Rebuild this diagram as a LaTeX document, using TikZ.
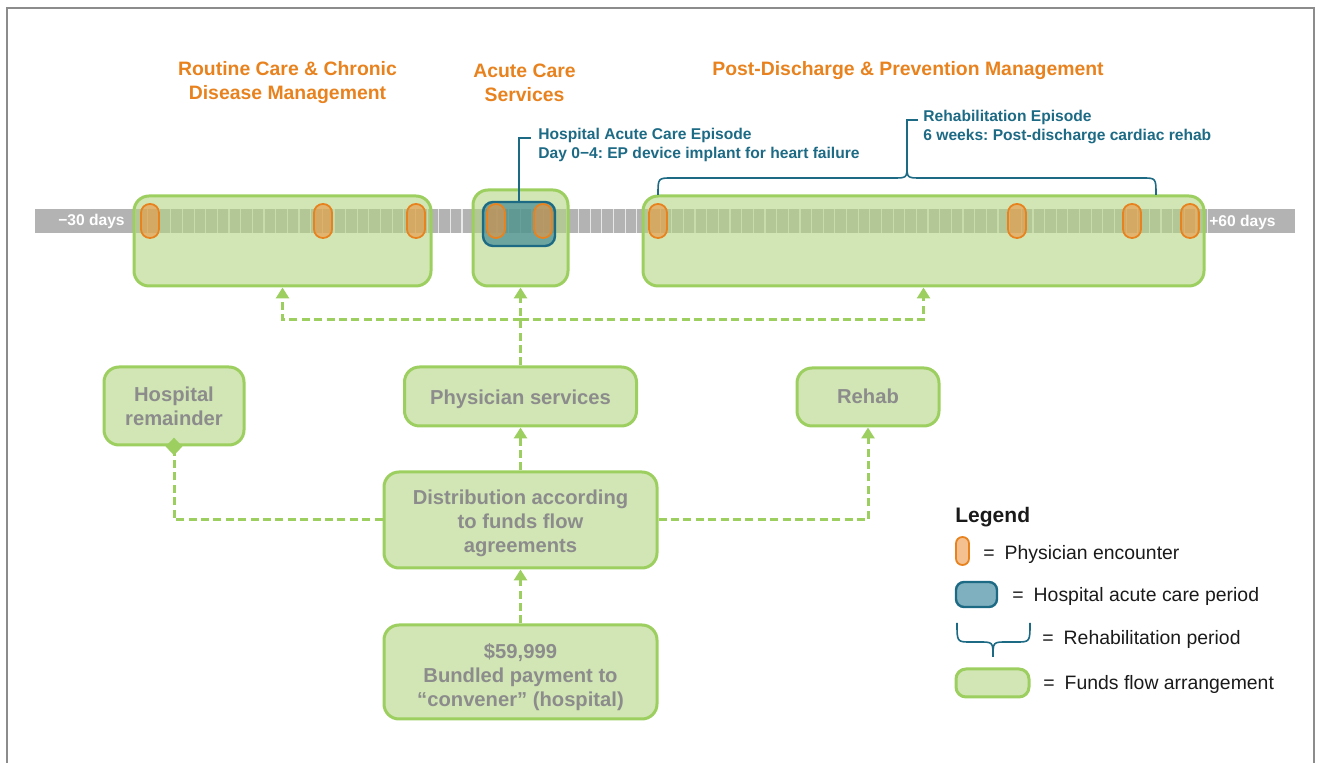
\documentclass[tikz,border=0pt]{standalone}
\usepackage{fontspec}
\setmainfont{Liberation Sans}
\usetikzlibrary{arrows.meta,shapes.geometric}
\definecolor{gfill}{HTML}{D1E6B4}
\definecolor{gbox}{HTML}{B2D582}
\definecolor{gline}{HTML}{9CCF5F}
\definecolor{gtext}{HTML}{8C8C8C}
\definecolor{orng}{HTML}{E8821E}
\definecolor{ofill}{HTML}{EC9644}
\definecolor{tealline}{HTML}{1D6A85}
\definecolor{tfill}{HTML}{2A7B94}
\definecolor{barcol}{HTML}{B3B3B3}
\definecolor{framecol}{HTML}{8C8C8C}
\definecolor{legtext}{HTML}{1A1A1A}
\newcommand{\lowered}[2]{\raisebox{-#1}[\height][\depth]{\begin{tabular}{@{}c@{}}#2\end{tabular}}}
\tikzset{
  fund/.style={draw=gline, line width=1.5pt, rounded corners=7.5pt, fill=gfill, inner sep=0pt},
  fundT/.style={draw=gline, line width=1.5pt, rounded corners=7.5pt, fill=gbox, fill opacity=0.6, inner sep=0pt},
  pill/.style={draw=orng, line width=0.9pt, fill=ofill, fill opacity=0.6, rounded corners=4.4pt, minimum width=9pt, minimum height=17pt, inner sep=0pt},
  acute/.style={draw=tealline, line width=1.2pt, fill=tfill, fill opacity=0.6, rounded corners=5pt, inner sep=0pt},
  gtxt/.style={text=gtext, font=\bfseries\fontsize{10.1}{12}\selectfont, text opacity=1},
  head/.style={text=orng, font=\bfseries\fontsize{9.7}{12}\selectfont, align=center},
  ttxt/.style={text=tealline, font=\bfseries\fontsize{7.8}{9.5}\selectfont, align=left, anchor=west, inner sep=0pt},
  daylbl/.style={text=white, font=\bfseries\fontsize{7.8}{9}\selectfont, inner sep=0pt},
  ltxt/.style={text=legtext, font=\fontsize{9.7}{12}\selectfont, anchor=west, inner sep=0pt},
  flow/.style={draw=gline, line width=1.5pt, dash pattern=on 4pt off 2.2pt},
  arr/.style={-{Triangle[width=6.5pt,length=5.5pt]}},
  tick/.style={white, opacity=0.7, line width=0.6pt},
  leader/.style={draw=tealline, line width=0.8pt},
}
\begin{document}
\frenchspacing
\begin{tikzpicture}[x=0.5pt,y=-0.5pt]
\useasboundingbox (0,0) rectangle (1323,763);
% frame
\draw[framecol, line width=1pt] (7,763) -- (7,8) -- (1314,8) -- (1314,763);
% timeline bar
\fill[barcol] (35,209) rectangle (1295,233);
\foreach \i in {-31,...,61} \draw[tick] ({497+\i*11.65},209) -- ++(0,24);
\node[daylbl] (m30) at (91.5,221) {−30 days};
\node[daylbl] (p60) at (1242.5,222) {+60 days};
% funds flow boxes on the timeline
\node[fundT, minimum width=148.5pt, minimum height=45pt] (box1) at (282.5,241) {};
\node[fundT, minimum width=47.5pt, minimum height=48pt] (box2) at (520.5,238) {};
\node[fundT, minimum width=280.5pt, minimum height=45pt] (box3) at (923.5,241) {};
% acute care period
\node[acute, minimum width=36pt, minimum height=22pt] (acu) at (519,224) {};
% physician encounters
\foreach \x/\n in {150/e1,323/e2,416/e3,496/e4,543/e5,658/e6,1017/e7,1132/e8,1190/e9}
  \node[pill] (\n) at (\x,221) {};
% headings
\node[head] (h1) at (287.5,83) {Routine Care \& Chronic\\Disease Management};
\node[head] (h2) at (524.5,83) {Acute Care\\Services};
\node[head] (h3) at (908,71) {Post-Discharge \& Prevention Management};
% acute annotation
\node[ttxt] (atxt) at (538,145) {Hospital Acute Care Episode\\Day 0−4: EP device implant for heart failure};
\coordinate (al) at (531,138);
\draw[leader] (acu.north) |- (al);
% rehab brace and annotation
\draw[leader] (658,195) .. controls (658,178) .. (672,178) -- (893,178)
  .. controls (907,178) .. (907,165) .. controls (907,178) .. (921,178)
  -- (1142,178) .. controls (1156,178) .. (1156,195);
\coordinate (btip) at (907,165);
\coordinate (rl) at (918,120);
\draw[leader] (btip) |- (rl);
\node[ttxt] (rtxt) at (923,127) {Rehabilitation Episode\\6 weeks: Post-discharge cardiac rehab};
% lower nodes
\node[fund, gtxt, minimum width=70pt, minimum height=39pt] (hosp) at (174,406) {\lowered{1.5pt}{Hospital\\remainder}};
\node[fund, gtxt, minimum width=116pt, minimum height=29.5pt] (phys) at (520.5,396.5) {\lowered{1.5pt}{Physician services}};
\node[fund, gtxt, minimum width=71pt, minimum height=29pt] (rehab) at (868,397) {\lowered{1pt}{Rehab}};
\node[fund, gtxt, minimum width=136.5pt, minimum height=48pt] (dist) at (520.5,520) {\lowered{2pt}{Distribution according\\to funds flow\\agreements}};
\node[fund, gtxt, minimum width=136.5pt, minimum height=47pt] (bund) at (520.5,672) {\lowered{2.8pt}{\$59,999\\Bundled payment to\\“convener” (hospital)}};
% connectors
\coordinate (bus) at (520.5,320);
\draw[flow, arr] (phys.north) -- (box2.south);
\draw[flow, arr] (bus) -| (box1.south);
\draw[flow, arr] (bus) -| (box3.south);
\draw[flow, arr] (dist.north) -- (phys.south);
\draw[flow, arr] (bund.north) -- (dist.south);
\draw[flow] (dist.west) -| (hosp.south);
\node[diamond, fill=gline, inner sep=0pt, minimum width=8.5pt, minimum height=9pt] (dmd) at (hosp.south) {};
\draw[flow, arr] (dist.east) -| (rehab.south);
% legend
\node[text=legtext, font=\bfseries\fontsize{10.5}{12}\selectfont, anchor=west, inner sep=0pt] (legt) at (955,517) {Legend};
\node[pill, minimum width=6.5pt, minimum height=14pt, rounded corners=3.2pt] (lg1) at (962.5,551) {};
\node[ltxt] (lt1) at (983,554) {=\hspace{5pt}Physician encounter};
\node[acute, minimum width=20.5pt, minimum height=12.5pt, rounded corners=4pt] (lg2) at (976.5,594.5) {};
\node[ltxt] (lt2) at (1012,596) {=\hspace{5pt}Hospital acute care period};
\draw[leader] (957,623) .. controls (957,642) .. (971,642) -- (979,642)
  .. controls (993,642) .. (993,657) .. controls (993,642) .. (1007,642)
  -- (1016,642) .. controls (1030,642) .. (1030,623);
\node[ltxt] (lt3) at (1042,639) {=\hspace{5pt}Rehabilitation period};
\node[fund, minimum width=36.5pt, minimum height=14pt, rounded corners=5pt] (lg4) at (992.5,683) {};
\node[ltxt] (lt4) at (1043,684) {=\hspace{5pt}Funds flow arrangement};
\end{tikzpicture}
\end{document}
